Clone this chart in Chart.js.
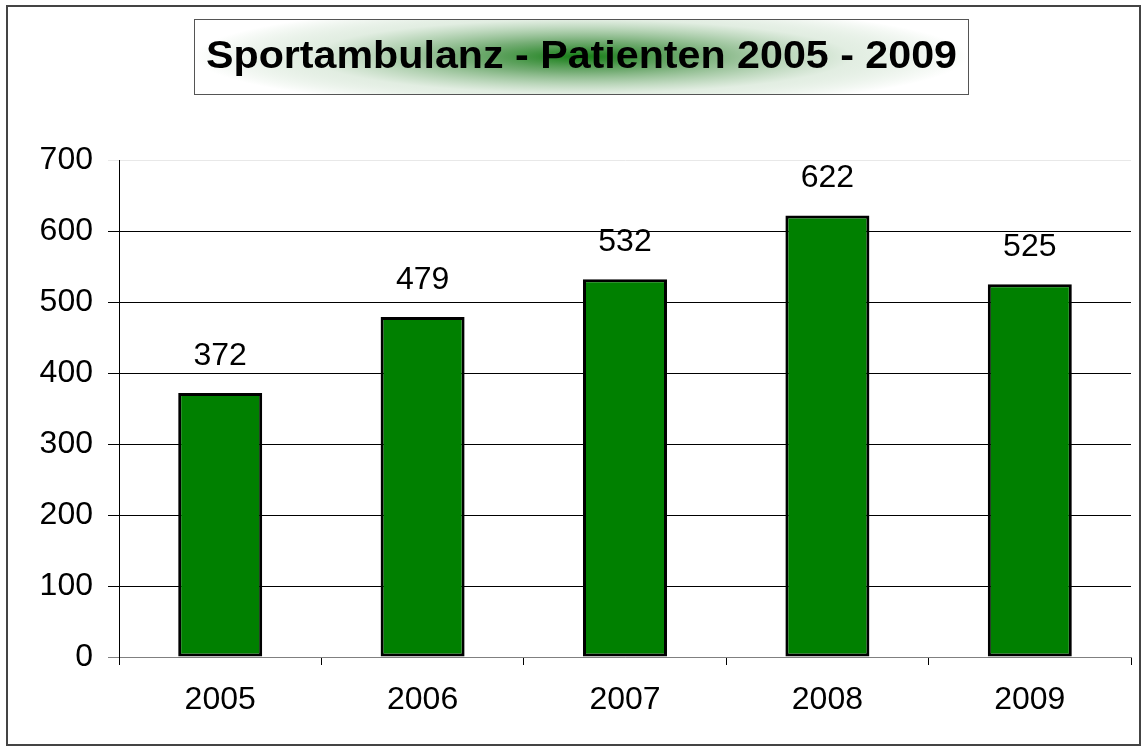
<!DOCTYPE html>
<html>
<head>
<meta charset="utf-8">
<script src="https://cdn.jsdelivr.net/npm/chart.js@4/dist/chart.umd.min.js"></script>
<style>
html,body{margin:0;padding:0;background:#fff;}
#wrap{width:1148px;height:752px;position:relative;}
</style>
</head>
<body>
<div id="wrap"><canvas id="c" width="1148" height="752"></canvas></div>
<script>
const titleText = 'Sportambulanz - Patienten 2005 - 2009';
const categories = ['2005', '2006', '2007', '2008', '2009'];
const patients = [372, 479, 532, 622, 525];
const yTicks = [0, 100, 200, 300, 400, 500, 600, 700];

const FONT = '"Liberation Sans", Arial, sans-serif';

const framePlugin = {
  id: 'frame',
  beforeDraw(chart) {
    const ctx = chart.ctx;
    ctx.save();
    ctx.fillStyle = '#ffffff';
    ctx.fillRect(0, 0, chart.width, chart.height);
    ctx.strokeStyle = '#444444';
    ctx.lineWidth = 2;
    ctx.strokeRect(7, 6, 1133, 739);
    // title box
    const bx = 194, by = 19, bw = 774, bh = 75;
    const cx = bx + bw / 2, cy = by + bh / 2;
    ctx.save();
    ctx.beginPath();
    ctx.rect(bx, by, bw, bh);
    ctx.clip();
    ctx.translate(cx, cy);
    ctx.scale(1, bh / bw * 1.4);
    const g = ctx.createRadialGradient(0, 0, 0, 0, 0, bw / 2);
    g.addColorStop(0, 'rgba(20,125,20,1)');
    g.addColorStop(0.3, 'rgba(95,160,95,0.85)');
    g.addColorStop(0.7, 'rgba(210,228,210,0.65)');
    g.addColorStop(1, 'rgba(255,255,255,1)');
    ctx.fillStyle = g;
    ctx.fillRect(-bw, -bw, bw * 2, bw * 2);
    ctx.restore();
    ctx.strokeStyle = '#555555';
    ctx.lineWidth = 1;
    ctx.strokeRect(bx + 0.5, by + 0.5, bw, bh);
    // title text
    ctx.font = 'bold 38px ' + FONT;
    const w = ctx.measureText(titleText).width;
    const sx = 751 / w;
    ctx.translate(581.5, 68);
    ctx.scale(sx, 1);
    ctx.fillStyle = '#000';
    ctx.textAlign = 'center';
    ctx.textBaseline = 'alphabetic';
    ctx.fillText(titleText, 0, 0);
    ctx.restore();
  }
};

const valueLabels = {
  id: 'valueLabels',
  afterDatasetsDraw(chart) {
    const ctx = chart.ctx;
    const meta = chart.getDatasetMeta(0);
    const data = chart.data.datasets[0].data;
    ctx.save();
    ctx.font = '32px ' + FONT;
    ctx.fillStyle = '#000';
    ctx.textAlign = 'center';
    ctx.textBaseline = 'middle';
    meta.data.forEach((bar, i) => {
      ctx.fillText(String(data[i]), bar.x, bar.y - 37);
    });
    ctx.restore();
  }
};

new Chart(document.getElementById('c'), {
  type: 'bar',
  data: {
    labels: categories,
    datasets: [{
      data: patients,
      backgroundColor: '#008000',
      borderColor: '#000000',
      borderWidth: 3,
      borderSkipped: false,
      categoryPercentage: 1.0,
      barPercentage: 0.415
    }]
  },
  plugins: [framePlugin, valueLabels],
  options: {
    responsive: false,
    animation: false,
    devicePixelRatio: 1,
    layout: { padding: { left: 8, right: 17, top: 160, bottom: 0 } },
    plugins: {
      legend: { display: false },
      tooltip: { enabled: false },
      title: { display: false }
    },
    scales: {
      x: {
        offset: true,
        afterFit(s) { s.height = 95; },
        border: { display: true, color: '#808080', width: 1 },
        grid: { display: true, offset: true, drawOnChartArea: false, drawTicks: true, tickLength: 8, color: '#000' },
        ticks: { color: '#000', font: { family: FONT, size: 32 }, padding: 16 }
      },
      y: {
        min: 0,
        max: 700,
        afterFit(s) { s.width = 111; },
        afterBuildTicks(s) { s.ticks = yTicks.map(v => ({ value: v })); },
        border: { display: true, color: '#000', width: 1 },
        grid: {
          drawTicks: true,
          tickLength: 11,
          color: ctx => ctx.tick && ctx.tick.value === 700 ? '#e8e8e8' : (ctx.tick && ctx.tick.value === 0 ? '#808080' : '#000'),
          lineWidth: 1
        },
        ticks: { color: '#000', font: { family: FONT, size: 32 }, padding: 15, stepSize: 100 }
      }
    }
  }
});
</script>
</body>
</html>
